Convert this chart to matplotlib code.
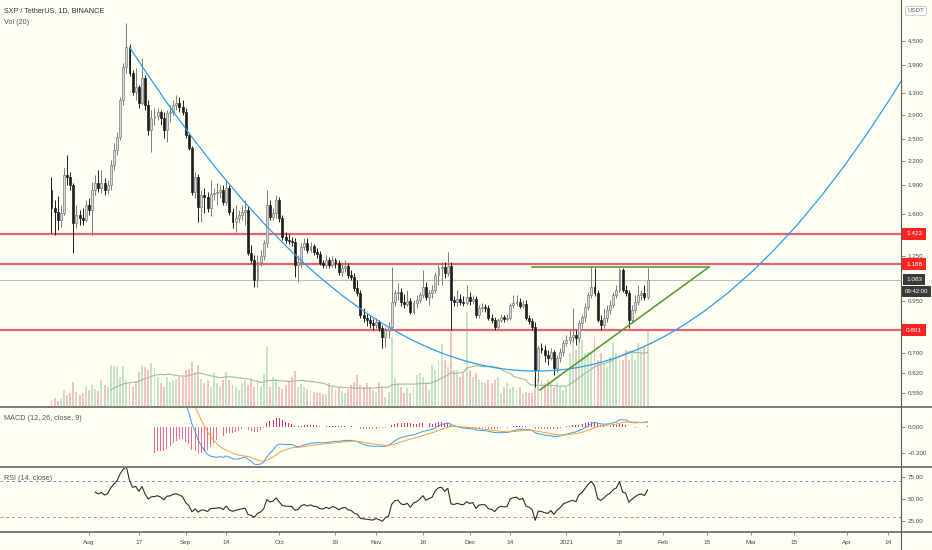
import numpy as np
import pandas as pd
import matplotlib
matplotlib.use('Agg')
import matplotlib.pyplot as plt
import matplotlib.dates as mdates
import matplotlib.transforms as mtrans
from matplotlib.path import Path
from matplotlib.patches import PathPatch
from matplotlib.lines import Line2D
from matplotlib.ticker import NullLocator

plt.rcParams['font.family'] = ['Liberation Sans', 'DejaVu Sans']

# ---------------- data (SXP/USDT daily) ----------------
start_date = '2020-07-20'
opens = [1.849,1.661,1.621,1.546,1.612,2.022,1.998,1.905,1.518,1.593,
         1.565,1.546,1.691,1.641,1.849,1.928,1.871,1.928,1.849,1.905,
         2.147,2.348,2.537,3.164,3.854,4.342,3.718,3.319,3.420,3.107,
         3.609,3.071,2.645,2.842,2.876,2.945,2.842,2.645,2.928,2.945,
         3.071,3.107,3.035,2.945,2.567,2.376,1.827,1.998,1.671,1.795,
         1.774,1.661,1.806,1.817,1.827,1.849,1.722,1.871,1.622,1.528,
         1.565,1.593,1.622,1.641,1.269,1.217,1.080,1.203,1.247,1.347,
         1.691,1.574,1.612,1.742,1.565,1.396,1.372,1.364,1.355,1.182,
         1.203,1.315,1.347,1.292,1.323,1.277,1.262,1.196,1.182,1.217,
         1.182,1.217,1.196,1.134,1.161,1.175,1.113,1.100,1.030,1.000,
         0.877,0.861,0.851,0.836,0.826,0.841,0.811,0.769,0.802,0.816,
         0.948,1.000,1.006,0.948,0.937,0.953,0.893,0.942,0.959,0.988,
         1.036,0.977,1.000,1.018,1.113,1.161,1.168,1.127,1.175,0.959,
         0.948,0.965,0.948,0.942,0.977,0.953,0.965,0.877,0.914,0.920,
         0.914,0.861,0.851,0.816,0.851,0.866,0.856,0.861,0.931,0.942,
         0.948,0.925,0.937,0.861,0.846,0.816,0.631,0.720,0.711,0.690,
         0.678,0.703,0.639,0.678,0.703,0.742,0.755,0.769,0.778,0.764,
         0.836,0.866,0.920,0.988,1.036,1.000,0.851,0.826,0.861,0.903,
         0.931,0.988,1.018,1.147,1.018,1.000,0.851,0.903,0.948,0.988,
         1.000,0.977]
highs = [1.999,1.742,1.785,1.691,2.109,2.279,2.059,1.928,1.691,1.641,
         1.661,1.742,1.763,1.940,2.022,2.084,2.084,1.986,1.963,2.212,
         2.448,2.614,3.222,3.946,5.011,4.420,3.785,3.830,3.461,4.066,
         3.674,3.164,2.981,3.017,3.017,2.981,2.945,2.981,3.071,3.164,
         3.260,3.222,3.164,3.017,2.598,2.405,2.059,2.034,1.849,1.871,
         1.827,1.963,1.871,1.928,1.905,1.905,1.963,1.905,1.661,1.691,
         1.641,1.691,1.742,1.681,1.331,1.254,1.254,1.292,1.372,1.849,
         1.742,1.661,1.795,1.774,1.593,1.439,1.422,1.396,1.388,1.254,
         1.347,1.388,1.388,1.355,1.339,1.308,1.284,1.217,1.254,1.239,
         1.247,1.232,1.217,1.203,1.217,1.196,1.147,1.127,1.080,1.018,
         0.914,0.888,0.872,0.856,0.861,0.851,0.826,0.816,0.841,1.168,
         1.018,1.061,1.030,0.994,1.018,0.971,0.959,0.988,1.006,1.147,
         1.067,1.018,1.049,1.134,1.182,1.203,1.203,1.277,1.203,0.982,
         1.018,0.994,0.982,1.049,1.006,0.988,0.982,0.931,0.942,0.937,
         0.931,0.882,0.866,0.861,0.882,0.877,0.882,0.942,0.988,0.988,
         0.971,0.959,0.959,0.877,0.861,0.841,0.733,0.742,0.733,0.711,
         0.720,0.711,0.690,0.720,0.755,0.778,0.802,0.914,0.802,0.851,
         0.877,0.942,1.006,1.175,1.161,1.018,0.877,0.914,0.931,0.959,
         1.006,1.049,1.161,1.161,1.049,1.018,0.931,0.988,1.049,1.018,
         1.049,1.161]
lows = [1.430,1.413,1.456,1.482,1.593,1.905,1.849,1.269,1.473,1.500,
        1.500,1.528,1.593,1.413,1.795,1.827,1.817,1.795,1.806,1.849,
        2.084,2.279,2.492,3.071,3.718,3.652,3.260,3.164,3.017,3.071,
        2.981,2.567,2.320,2.725,2.808,2.725,2.522,2.463,2.775,2.893,
        2.981,2.945,2.893,2.522,2.348,1.795,1.763,1.528,1.528,1.612,
        1.622,1.584,1.742,1.691,1.763,1.691,1.691,1.593,1.473,1.439,
        1.528,1.546,1.500,1.254,1.196,1.036,1.036,1.175,1.217,1.315,
        1.546,1.546,1.565,1.528,1.372,1.347,1.339,1.323,1.100,1.067,
        1.161,1.292,1.269,1.277,1.254,1.232,1.182,1.161,1.161,1.161,
        1.168,1.161,1.113,1.107,1.134,1.093,1.080,1.012,0.982,0.861,
        0.841,0.821,0.811,0.802,0.811,0.797,0.720,0.724,0.764,0.802,
        0.925,0.959,0.925,0.914,0.925,0.882,0.882,0.914,0.942,0.971,
        0.959,0.931,0.971,1.000,1.049,1.049,1.093,1.107,0.802,0.925,
        0.925,0.931,0.925,0.931,0.931,0.937,0.861,0.861,0.893,0.893,
        0.851,0.836,0.802,0.802,0.841,0.841,0.846,0.851,0.914,0.925,
        0.914,0.914,0.851,0.831,0.802,0.570,0.588,0.698,0.662,0.650,
        0.670,0.613,0.624,0.662,0.686,0.729,0.737,0.746,0.733,0.746,
        0.811,0.841,0.903,0.971,0.982,0.841,0.802,0.811,0.841,0.882,
        0.914,0.971,1.006,1.006,0.982,0.811,0.836,0.888,0.931,0.959,
        0.959,0.965]
closes = [1.661,1.621,1.546,1.612,2.022,1.998,1.905,1.518,1.593,1.565,
          1.546,1.691,1.641,1.849,1.928,1.871,1.928,1.849,1.905,2.147,
          2.348,2.537,3.164,3.854,4.342,3.718,3.319,3.420,3.107,3.609,
          3.071,2.645,2.842,2.876,2.945,2.842,2.645,2.928,2.945,3.071,
          3.107,3.035,2.945,2.567,2.376,1.827,1.998,1.671,1.795,1.774,
          1.661,1.806,1.817,1.827,1.849,1.722,1.871,1.622,1.528,1.565,
          1.593,1.622,1.641,1.269,1.217,1.080,1.203,1.247,1.347,1.691,
          1.574,1.612,1.742,1.565,1.396,1.372,1.364,1.355,1.182,1.203,
          1.315,1.347,1.292,1.323,1.277,1.262,1.196,1.182,1.217,1.182,
          1.217,1.196,1.134,1.161,1.175,1.113,1.100,1.030,1.000,0.877,
          0.861,0.851,0.836,0.826,0.841,0.811,0.769,0.802,0.816,0.948,
          1.000,1.006,0.948,0.937,0.953,0.893,0.942,0.959,0.988,1.036,
          0.977,1.000,1.018,1.113,1.161,1.168,1.127,1.175,0.959,0.948,
          0.965,0.948,0.942,0.977,0.953,0.965,0.877,0.914,0.920,0.914,
          0.861,0.851,0.816,0.851,0.866,0.856,0.861,0.931,0.942,0.948,
          0.925,0.937,0.861,0.846,0.816,0.631,0.720,0.711,0.690,0.678,
          0.703,0.639,0.678,0.703,0.742,0.755,0.769,0.778,0.764,0.836,
          0.866,0.920,0.988,1.036,1.000,0.851,0.826,0.861,0.903,0.931,
          0.988,1.018,1.147,1.018,1.000,0.851,0.903,0.948,0.988,1.000,
          0.977,1.083]
volume_m = [7,9,6,8,17,12,14,25,15,12,
            14,20,17,22,18,16,27,22,20,42,
            41,40,30,41,27,24,20,26,35,42,
            40,37,44,40,30,24,20,30,25,27,
            28,30,30,37,38,45,35,42,28,24,
            27,20,34,24,20,27,35,27,22,20,
            17,24,27,22,27,20,27,20,33,60,
            20,30,28,20,18,22,25,30,36,20,
            23,20,18,17,15,14,14,13,13,24,
            20,17,20,16,14,18,22,25,32,22,
            20,24,20,17,15,25,20,10,15,70,
            29,24,20,14,19,14,20,32,34,30,
            24,17,42,37,47,63,47,40,77,37,
            37,30,34,95,37,30,34,27,25,24,
            27,24,27,30,14,20,24,19,20,17,
            20,14,15,14,14,30,28,27,24,27,
            24,20,24,20,17,20,54,67,57,70,
            67,54,55,55,70,47,54,44,40,50,
            64,54,50,47,57,47,57,47,64,57,
            60,77]

levels_red = [1.422, 1.188, 0.801]
last_price = 1.083
countdown = '09:42:00'

# drawings (anchor points in date / price)
curve_dates = ['2020-08-13 22:00', '2020-12-21 22:00', '2021-04-18 05:00']
curve_prices = [4.35, 0.1004, 3.54]
tri_top_dates = ['2020-12-20 22:00', '2021-02-15 16:00']
tri_top_price = 1.167
tri_rise_dates = ['2020-12-23 12:00', '2021-02-15 16:00']
tri_rise_prices = [0.56, 1.167]

price_ticks = [4.5, 3.9, 3.3, 2.9, 2.5, 2.2, 1.9, 1.6, 1.25, 0.95, 0.70, 0.62, 0.55]
macd_ticks = [0.0, -0.2]
macd_tick_labels = ['0.000', '\u22120.200']
rsi_ticks = [75, 50, 25]
time_tick_dates = ['2020-08-01', '2020-08-17', '2020-09-01', '2020-09-14', '2020-10-01',
                   '2020-10-19', '2020-11-01', '2020-11-16', '2020-12-01', '2020-12-14',
                   '2021-01-01', '2021-01-18', '2021-02-01', '2021-02-15', '2021-03-01',
                   '2021-03-15', '2021-04-01', '2021-04-14']
time_tick_labels = ['Aug', '17', 'Sep', '14', 'Oct', '19', 'Nov', '16', 'Dec', '14',
                    '2021', '18', 'Feb', '15', 'Mar', '15', 'Apr', '14']

# ---------------- indicators ----------------
o = np.array(opens); h = np.array(highs); l = np.array(lows); c = np.array(closes)
v = np.array(volume_m, dtype=float)
dates = pd.date_range(start_date, periods=len(c), freq='D')
x = mdates.date2num(dates.to_pydatetime())


def seeded_avg(src, n, alpha):
    out = np.full(len(src), np.nan)
    valid = np.where(~np.isnan(src))[0]
    s = valid[0]
    out[s + n - 1] = np.mean(src[s:s + n])
    for k in range(s + n, len(src)):
        out[k] = alpha * src[k] + (1 - alpha) * out[k - 1]
    return out


ema12 = seeded_avg(c, 12, 2 / 13)
ema26 = seeded_avg(c, 26, 2 / 27)
macd = ema12 - ema26
signal = seeded_avg(macd, 9, 2 / 10)
hist = macd - signal

ch = np.concatenate([[np.nan], np.diff(c)])
up_ch = np.maximum(ch, 0)
dn_ch = np.maximum(-ch, 0)
rs = seeded_avg(up_ch, 14, 1 / 14) / seeded_avg(dn_ch, 14, 1 / 14)
rsi = 100 - 100 / (1 + rs)
vol_ma = pd.Series(v).rolling(20).mean().values

# ---------------- figure ----------------
BG = '#fffff3'
W, H = 932.0, 550.0
fig = plt.figure(figsize=(W / 100, H / 100), dpi=100, facecolor=BG)


def rect(top, bottom):
    return [0, 1 - bottom / H, 901 / W, (bottom - top) / H]


ax_vol = fig.add_axes(rect(0, 407))
ax = fig.add_axes(rect(0, 407), sharex=ax_vol)
ax_macd = fig.add_axes(rect(407, 467), sharex=ax_vol)
ax_rsi = fig.add_axes(rect(467, 532), sharex=ax_vol)
ax_vol.set_zorder(0)
ax.set_zorder(1)
ax.patch.set_alpha(0)
for a in (ax_vol, ax_macd, ax_rsi):
    a.set_facecolor(BG)

aug1 = mdates.date2num(pd.Timestamp('2020-08-01').to_pydatetime())
ax_vol.set_xlim(aug1 - 28.5, aug1 + 260.2)

up = c >= o
UP_FACE, UP_EDGE, DN = '#d9d9d9', '#7d7d7d', '#1e1e1e'

# volume
vcol = np.where(up, '#c6e4c6', '#f5c2c2')
ax_vol.bar(x, v, width=0.62, color=vcol, linewidth=0)
ax_vol.plot(x, vol_ma, color='#a3baa3', lw=0.8)
ax_vol.set_ylim(0, 407)
ax_vol.axis('off')

# horizontal levels
for lev in levels_red:
    ax.axhline(lev, color='#e9626c', lw=1.6, zorder=1)
ax.axhline(last_price, color='#bdbdbd', lw=0.8, zorder=1)

# candles
wick_col = np.where(up, UP_EDGE, DN)
ax.vlines(x, l, h, colors=wick_col, lw=0.7, zorder=3)
ax.bar(x, np.abs(c - o), bottom=np.minimum(o, c), width=0.62,
       color=np.where(up, UP_FACE, DN), edgecolor=np.where(up, UP_EDGE, DN),
       linewidth=0.5, zorder=4)

# blue curve (quadratic bezier through the anchor points)
cx = mdates.date2num(pd.to_datetime(curve_dates).to_pydatetime())
curve = Path(list(zip(cx, curve_prices)), [Path.MOVETO, Path.CURVE3, Path.CURVE3])
ax.add_patch(PathPatch(curve, fill=False, edgecolor='#2e9cf0', lw=0.9, zorder=5,
                       transform=ax.transData))

# green triangle
tx = mdates.date2num(pd.to_datetime(tri_top_dates).to_pydatetime())
ax.plot(tx, [tri_top_price, tri_top_price], color='#5a9e35', lw=1.2, zorder=5)
rx = mdates.date2num(pd.to_datetime(tri_rise_dates).to_pydatetime())
ax.plot(rx, tri_rise_prices, color='#5a9e35', lw=1.2, zorder=5)

ax.set_yscale('log')
ax.set_ylim(0.506, 5.748)
ax.yaxis.tick_right()
ax.yaxis.set_minor_locator(NullLocator())
ax.set_yticks(price_ticks)
ax.set_yticklabels(['%.3f' % t for t in price_ticks])

# MACD
hcol = np.where(hist >= 0, '#d6337a', '#f06a9c')
ax_macd.bar(x, hist, width=0.3, color=hcol, linewidth=0)
ax_macd.plot(x, macd, color='#3d9ae8', lw=0.7)
ax_macd.plot(x, signal, color='#f5a041', lw=0.7)
ax_macd.set_ylim(-0.308, 0.154)
ax_macd.yaxis.tick_right()
ax_macd.set_yticks(macd_ticks)
ax_macd.set_yticklabels(macd_tick_labels)

# RSI
ax_rsi.axhline(70, color='#8393c4', lw=0.7, ls=(0, (3, 3)))
ax_rsi.axhline(30, color='#e57a7a', lw=0.7, ls=(0, (3, 3)))
ax_rsi.plot(x, rsi, color='#2e2e2e', lw=0.8)
ax_rsi.set_ylim(12.5, 86.4)
ax_rsi.yaxis.tick_right()
ax_rsi.set_yticks(rsi_ticks)
ax_rsi.set_yticklabels(['%.2f' % t for t in rsi_ticks])

ttx = mdates.date2num(pd.to_datetime(time_tick_dates).to_pydatetime())
ax_rsi.set_xticks(ttx)
ax_rsi.set_xticklabels(time_tick_labels)

TXT = '#4a4a4a'
for a in (ax, ax_macd, ax_rsi):
    for s in a.spines.values():
        s.set_visible(False)
    a.tick_params(axis='y', which='both', right=True, left=False, length=3, width=0.6,
                  color='#7a7a7a', labelsize=4.5, labelcolor=TXT, pad=2)
    a.tick_params(axis='x', which='both', bottom=False, labelbottom=False)
ax_rsi.tick_params(axis='x', bottom=True, labelbottom=True, length=2.5, width=0.6,
                   color='#7a7a7a', labelsize=4.6, labelcolor=TXT, pad=3)

# separators and axis line
for yy in (407, 467, 532):
    fig.add_artist(Line2D([0, 1], [1 - yy / H, 1 - yy / H], transform=fig.transFigure,
                          color='#7c7c7c', lw=1.4))
fig.add_artist(Line2D([901 / W, 901 / W], [0, 1], transform=fig.transFigure,
                      color='#5a5a5a', lw=0.8))

# price labels on the right axis
blend = mtrans.blended_transform_factory(ax.transAxes, ax.transData)
for lev in levels_red:
    ax.annotate('%.3f' % lev, xy=(1, lev), xycoords=blend, xytext=(5, 0),
                textcoords='offset pixels', va='center', ha='left', fontsize=4.6,
                color='white', annotation_clip=False,
                bbox=dict(boxstyle='square,pad=0.55', fc='#ff2424', ec='none'))
ax.annotate('%.3f' % last_price, xy=(1, last_price), xycoords=blend, xytext=(5, 0),
            textcoords='offset pixels', va='center', ha='left', fontsize=4.6,
            color='white', annotation_clip=False,
            bbox=dict(boxstyle='square,pad=0.5', fc='#3a3a3a', ec='none'))
ax.annotate(countdown, xy=(1, last_price), xycoords=blend, xytext=(4, -12),
            textcoords='offset pixels', va='center', ha='left', fontsize=4.3,
            color='white', annotation_clip=False,
            bbox=dict(boxstyle='square,pad=0.45', fc='#3a3a3a', ec='none'))

fig.text(916 / W, 1 - 11 / H, 'USDT', ha='center', va='center', fontsize=4.4, color='#555',
         bbox=dict(boxstyle='round,pad=0.35', fc='white', ec='#c4c4c4', lw=0.6))

# legends
fig.text(4 / W, 1 - 11 / H, 'SXP / TetherUS, 1D, BINANCE', ha='left', va='center',
         fontsize=5.2, color='#333333')
fig.text(4 / W, 1 - 23 / H, 'Vol (20)', ha='left', va='center', fontsize=5.2, color='#555555')
fig.text(4 / W, 1 - 419 / H, 'MACD (12, 26, close, 9)', ha='left', va='center',
         fontsize=5.2, color='#555555')
fig.text(4 / W, 1 - 479 / H, 'RSI (14, close)', ha='left', va='center', fontsize=5.2,
         color='#555555')

fig.savefig('out.png', dpi=100, facecolor=BG)
